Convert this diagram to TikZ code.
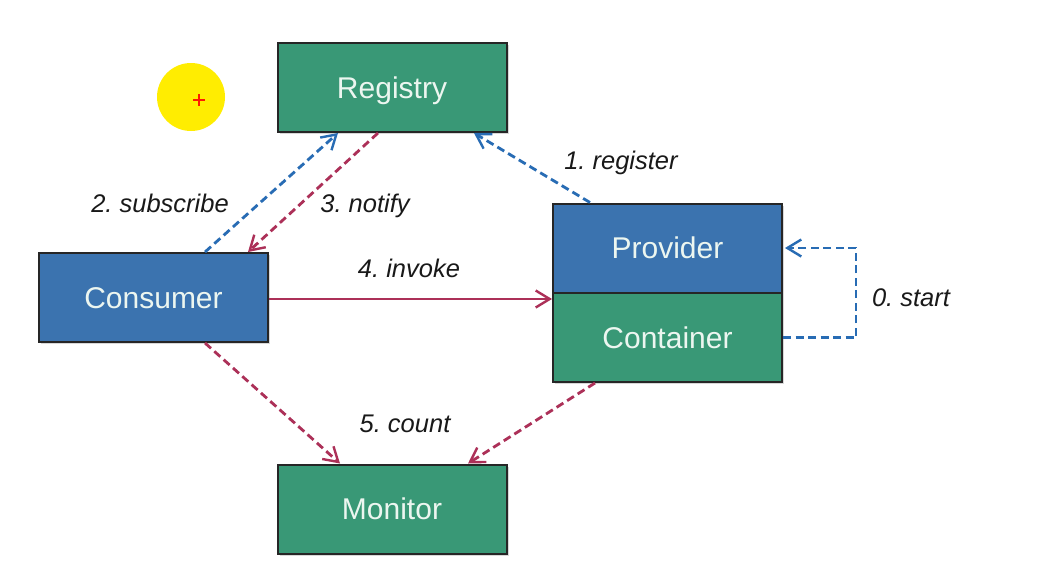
\documentclass[tikz,border=0pt]{standalone}
\usepackage{fontspec}
\setmainfont{Liberation Sans}
\usetikzlibrary{arrows.meta,shadows}
\definecolor{boxgreen}{RGB}{57,152,118}
\definecolor{boxblue}{RGB}{59,115,175}
\definecolor{dashred}{RGB}{172,48,88}
\definecolor{dashblue}{RGB}{40,108,180}
\definecolor{boxtext}{RGB}{236,246,240}
\tikzset{
  comp/.style={draw=black!85, line width=2pt, minimum width=229pt, minimum height=89pt,
    inner sep=0pt, text=boxtext, font=\fontsize{30}{34}\selectfont,
    text height=21.5pt, text depth=0pt,
    drop shadow={opacity=0.3, shadow xshift=2pt, shadow yshift=-2pt}},
  greenbox/.style={comp, fill=boxgreen},
  bluebox/.style={comp, fill=boxblue},
  lbl/.style={font=\fontsize{25.5}{29}\selectfont\itshape\frenchspacing, text=black!90, inner sep=0pt,
    text height=18pt, text depth=0pt},
  tip/.style={-{Straight Barb[length=14pt,width=17pt,line width=2.4pt]}},
  bluedash/.style={draw=dashblue, line width=2.8pt, dash pattern=on 8pt off 4.5pt, tip},
  reddash/.style={draw=dashred, line width=2.8pt, dash pattern=on 8pt off 4.5pt, tip},
  redsolid/.style={draw=dashred, line width=2.4pt, tip}
}
\begin{document}
\begin{tikzpicture}[x=1pt,y=-1pt]
\useasboundingbox[fill=white] (0,0) rectangle (1039,587);
% cursor highlight
\fill[yellow!95!orange] (191,97) circle (34);
\draw[red!80!orange, line width=2pt] (193,100) -- (205,100) (199,94) -- (199,106);
% components
\node[greenbox] (reg) at (392,87.5) {Registry};
\node[bluebox] (cons) at (153.5,297.5) {Consumer};
\node[bluebox] (prov) at (667.5,248) {Provider};
\node[greenbox] (cont) at (667.5,337.5) {Container};
\node[greenbox] (mon) at (392,509) {Monitor};
% labels
\node[lbl] (l1) at (621,160) {1. register};
\node[lbl] (l2) at (160,203) {2. subscribe};
\node[lbl] (l3) at (365,203) {3. notify};
\node[lbl] (l4) at (409,268) {4. invoke};
\node[lbl] (l0) at (911,297) {0. start};
\node[lbl] (l5) at (405,423) {5. count};
% connectors
\draw[bluedash] ([xshift=51.5pt]cons.north) -- ([xshift=-54pt]reg.south);
\draw[reddash] ([xshift=-14pt]reg.south) -- ([xshift=94.5pt]cons.north);
\draw[bluedash] ([xshift=-77.5pt]prov.north) -- ([xshift=82pt]reg.south);
\draw[redsolid] ([yshift=-1.5pt]cons.east) -- ([yshift=-1.5pt]cons.east -| prov.west);
\draw[bluedash] (cont.east) -- ++(73,0) |- ([xshift=2pt]prov.east);
\draw[reddash] ([xshift=51.5pt]cons.south) -- ([xshift=-52pt]mon.north);
\draw[reddash] ([xshift=-72.5pt]cont.south) -- ([xshift=76pt]mon.north);
\end{tikzpicture}
\end{document}
